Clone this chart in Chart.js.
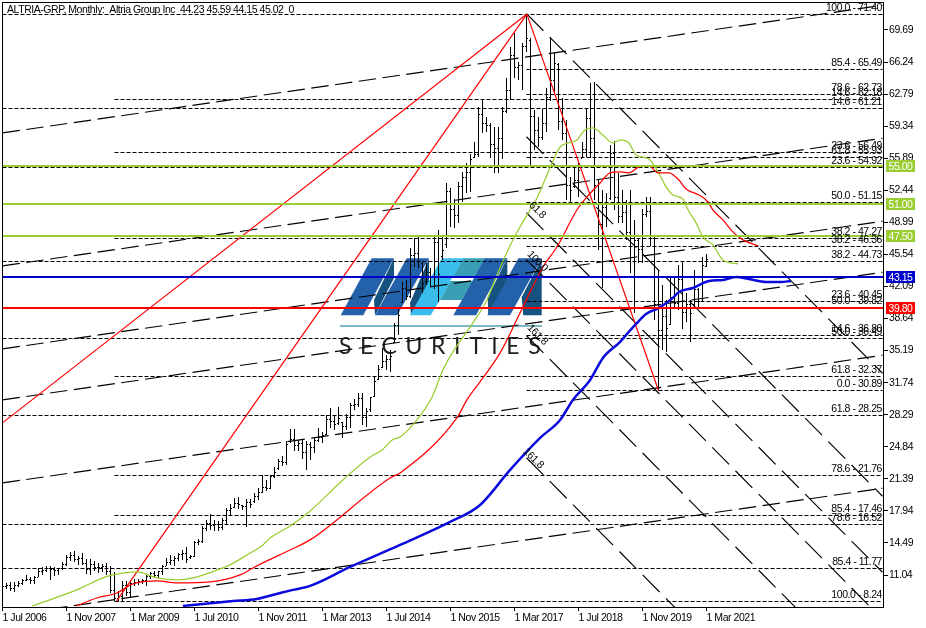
<!DOCTYPE html>
<html>
<head>
<meta charset="utf-8">
<title>ALTRIA-GRP Monthly</title>
<script src="https://cdn.jsdelivr.net/npm/chart.js@4/dist/chart.umd.min.js"></script>
<style>
  html, body { margin: 0; padding: 0; background: #fff; }
  canvas { display: block; }
</style>
</head>
<body>
<canvas id="chart" width="926" height="628"></canvas>
<script>
// monthly bars, index 0 = 1 Jul 2006
const highs = [
  10.0, 10.18, 10.25, 10.25, 10.36, 10.65, 11.0, 10.79, 10.9, 11.79,
  11.9, 12.04, 12.04, 11.9, 11.79, 12.44, 13.16, 13.52, 13.59, 13.05,
  13.41, 12.8, 12.8, 12.51, 12.33, 12.22, 12.33, 11.97, 11.36, 9.28,
  10.36, 10.36, 10.54, 10.61, 10.61, 10.61, 11.08, 11.36, 11.43, 11.51,
  12.15, 12.87, 13.16, 13.05, 13.41, 13.77, 14.02, 13.23, 14.66, 14.95,
  16.28, 17.0, 17.6, 17.0, 16.82, 17.17, 18.25, 18.68, 19.33, 19.4,
  18.54, 19.22, 19.25, 19.86, 20.4, 21.77, 21.3, 21.77, 22.63, 23.56,
  23.81, 25.42, 26.75, 26.75, 25.6, 25.6, 25.42, 25.4, 25.75, 26.83,
  26.47, 28.27, 28.98, 28.27, 29.09, 27.55, 28.34, 29.52, 29.95, 30.67,
  30.6, 28.98, 30.24, 32.39, 33.65, 35.44, 34.72, 35.26, 38.2, 39.9,
  42.6, 42.79, 46.19, 47.27, 47.45, 44.76, 44.58, 44.05, 47.45, 48.17,
  47.45, 53.19, 52.65, 51.5, 53.37, 54.44, 55.34, 56.34, 57.67, 61.44,
  62.26, 60.36, 59.64, 59.29, 59.29, 61.44, 64.49, 67.86, 69.4, 66.25,
  68.25, 71.4, 68.83, 61.08, 60.36, 61.15, 63.41, 68.97, 67.2, 66.1,
  62.4, 60.0, 53.9, 54.95, 55.4, 57.64, 61.3, 64.0, 64.1, 53.5,
  52.5, 52.2, 57.3, 57.75, 54.3, 52.5, 51.4, 52.5, 49.2, 47.3,
  50.4, 51.7, 51.7, 47.5, 43.9, 42.25, 40.6, 43.0, 43.1, 44.4,
  44.8, 41.4, 40.6, 43.9, 41.9, 45.3, 45.59
];
const lows = [
  9.5, 9.57, 9.28, 9.17, 9.75, 10.0, 10.36, 10.11, 10.11, 10.79,
  11.08, 11.36, 10.54, 10.9, 11.0, 11.54, 11.97, 12.58, 12.44, 12.15,
  12.15, 11.15, 11.08, 11.43, 11.26, 11.36, 11.08, 9.1, 8.21, 8.13,
  8.21, 8.74, 8.57, 9.82, 10.0, 10.11, 9.82, 10.65, 10.79, 10.72,
  11.08, 11.97, 12.15, 12.04, 12.51, 12.69, 12.33, 12.8, 12.94, 14.3,
  14.48, 15.81, 15.92, 15.81, 15.81, 15.92, 16.46, 17.53, 18.25, 18.18,
  18.07, 16.17, 18.25, 18.79, 19.15, 19.86, 20.04, 20.33, 21.48, 22.38,
  22.73, 22.91, 25.24, 24.35, 24.35, 23.56, 22.38, 23.42, 24.14, 25.4,
  25.22, 26.11, 26.83, 26.65, 27.19, 25.75, 26.65, 26.83, 28.8, 29.16,
  27.19, 26.94, 28.62, 30.24, 32.03, 33.29, 33.11, 32.93, 35.98, 36.87,
  40.28, 40.64, 40.82, 44.23, 44.05, 41.36, 42.25, 42.07, 41.79, 40.46,
  44.9, 46.19, 48.53, 48.4, 48.89, 51.22, 52.18, 52.22, 55.88, 56.06,
  58.57, 58.75, 55.88, 54.34, 54.34, 55.77, 60.72, 62.16, 64.53, 64.31,
  63.24, 67.3, 55.17, 56.78, 57.06, 57.85, 58.75, 62.0, 62.9, 58.9,
  57.85, 51.4, 51.1, 52.7, 51.7, 55.9, 56.0, 55.9, 51.4, 46.0,
  41.9, 48.5, 51.4, 50.3, 48.9, 48.9, 47.1, 43.5, 39.2, 44.6,
  44.6, 49.6, 46.4, 38.5, 30.89, 35.25, 35.0, 37.95, 39.9, 39.6,
  37.5, 38.3, 36.1, 39.9, 39.9, 40.4, 44.15
];
const opens = [
  9.7, 9.8, 9.9, 9.6, 9.9, 10.1, 10.4, 10.6, 10.4, 10.8,
  11.4, 11.5, 11.7, 11.6, 11.5, 11.7, 12.2, 12.9, 13.1, 12.7,
  12.8, 12.3, 11.6, 12.2, 11.9, 11.8, 12.0, 11.4, 9.4, 8.5,
  8.7, 9.9, 9.2, 10.1, 10.2, 10.3, 10.5, 10.9, 11.2, 11.0,
  11.4, 12.0, 12.4, 12.6, 12.8, 13.2, 13.4, 12.9, 13.0, 14.5,
  14.6, 16.0, 16.6, 16.4, 16.5, 16.2, 16.9, 18.0, 18.3, 18.7,
  18.5, 18.4, 18.8, 18.9, 19.5, 19.9, 20.5, 20.4, 21.6, 22.5,
  23.3, 23.1, 25.4, 25.6, 25.0, 25.2, 24.2, 25.1, 24.8, 25.5,
  25.8, 26.2, 27.8, 27.6, 27.3, 27.4, 27.0, 28.0, 29.3, 29.4,
  30.0, 28.0, 28.8, 30.3, 32.1, 33.4, 34.0, 34.2, 36.1, 37.9,
  40.4, 41.9, 41.0, 45.4, 45.6, 44.6, 42.6, 43.6, 43.2, 46.8,
  45.3, 46.6, 52.3, 50.4, 49.7, 52.8, 53.8, 54.3, 56.0, 56.3,
  60.6, 59.6, 59.4, 57.4, 56.9, 58.0, 60.9, 63.2, 66.9, 65.6,
  65.9, 67.9, 68.6, 60.4, 58.9, 58.1, 59.6, 62.4, 64.3, 66.0,
  59.8, 58.6, 53.0, 52.9, 53.5, 55.9, 56.8, 60.2, 58.0, 53.0,
  48.8, 50.6, 51.6, 56.4, 51.7, 49.6, 50.1, 47.9, 45.2, 47.0,
  46.1, 49.8, 50.2, 47.2, 40.1, 37.4, 38.9, 38.0, 40.9, 40.3,
  42.8, 39.3, 40.1, 40.1, 41.8, 40.5, 44.23
];
const closes = [
  9.8, 9.9, 9.6, 9.9, 10.1, 10.4, 10.6, 10.4, 10.8, 11.4,
  11.5, 11.7, 11.6, 11.5, 11.7, 12.2, 12.9, 13.1, 12.7, 12.8,
  12.3, 11.6, 12.2, 11.9, 11.8, 12.0, 11.4, 9.4, 8.5, 8.7,
  9.9, 9.2, 10.1, 10.2, 10.3, 10.5, 10.9, 11.2, 11.0, 11.4,
  12.0, 12.4, 12.6, 12.8, 13.2, 13.4, 12.7, 13.0, 14.5, 14.6,
  16.0, 16.6, 16.4, 16.5, 16.2, 16.9, 18.0, 18.2, 18.7, 18.6,
  18.4, 18.8, 18.6, 19.5, 19.9, 20.5, 20.3, 21.6, 22.1, 23.3,
  23.1, 25.1, 25.6, 25.0, 25.2, 24.2, 25.1, 24.8, 25.5, 25.8,
  26.1, 27.8, 27.6, 27.2, 27.9, 27.0, 28.0, 29.3, 29.4, 30.0,
  28.0, 28.6, 30.1, 31.9, 33.2, 34.0, 34.2, 34.6, 37.9, 39.0,
  41.9, 41.0, 45.4, 45.6, 44.8, 42.4, 43.6, 43.2, 46.8, 43.4,
  46.0, 52.3, 50.4, 49.7, 52.8, 53.8, 54.3, 55.7, 56.3, 60.6,
  59.6, 59.4, 57.4, 56.9, 58.0, 60.9, 63.2, 66.9, 65.6, 65.9,
  67.9, 68.8, 60.4, 58.9, 58.1, 59.6, 62.4, 64.3, 66.1, 59.8,
  58.6, 53.0, 52.4, 53.5, 54.6, 56.8, 60.2, 58.0, 53.0, 48.8,
  50.6, 49.5, 56.4, 51.7, 49.6, 50.1, 47.9, 45.2, 47.0, 46.1,
  49.8, 50.2, 47.2, 40.1, 37.4, 38.9, 37.6, 40.9, 40.3, 42.8,
  39.3, 40.1, 39.2, 41.8, 40.5, 44.3, 45.02
];

const greenMaIdx = [7.4, 18.6, 25.1, 27.6, 33.6, 38.6, 43.6, 47.6, 54.4, 56.9, 61.1, 65.1, 66.9, 71.9, 76.9, 85.1, 91.9, 94.9, 97.4, 99.4, 103.6, 107.4, 110.1, 112.6, 117.6, 121.1, 123.6, 127.6, 131.9, 133.1, 135.6, 137.4, 139.4, 143.6, 145.6, 147.6, 150.1, 152.6, 154.4, 156.6, 158.4, 161.6, 163.9, 165.9, 167.6, 170.1, 171.4, 173.4, 175.1, 177.6, 180.1, 183.9];
const greenMaVal = [7.71, 9.44, 10.73, 11.05, 11.37, 10.73, 10.51, 10.73, 11.7, 12.13, 13.2, 14.28, 15.03, 16.32, 17.94, 21.27, 23.75, 24.5, 25.57, 25.9, 27.73, 30.2, 33.11, 35.05, 38.17, 40.64, 43.33, 47.1, 50.32, 51.18, 53.55, 55.38, 57.1, 57.86, 58.93, 59.15, 58.39, 57.53, 57.86, 57.53, 56.24, 55.81, 54.41, 52.8, 51.94, 51.51, 50.32, 48.93, 47.42, 46.56, 44.94, 44.51];
const redMaIdx = [18.4, 23.6, 28.6, 32.6, 38.6, 43.6, 51.9, 59.4, 62.6, 66.1, 71.9, 76.9, 96.9, 99.4, 113.6, 116.1, 120.1, 124.4, 130.1, 135.1, 138.6, 143.6, 146.1, 149.4, 151.9, 154.4, 156.6, 159.1, 161.6, 163.9, 166.6, 169.1, 170.9, 174.1, 176.4, 177.6, 180.1, 182.6, 185.1, 188.9];
const redMaVal = [7.71, 8.57, 9.11, 10.08, 10.4, 10.19, 10.3, 11.05, 11.8, 12.56, 13.74, 14.82, 21.49, 22.03, 27.94, 29.88, 32.25, 34.94, 39.89, 44.19, 46.34, 50.32, 51.72, 53.23, 54.31, 54.41, 54.31, 54.95, 55.06, 54.31, 54.31, 53.55, 52.58, 51.94, 51.18, 50.32, 49.25, 47.96, 47.1, 46.45];
const blueMaIdx = [45.1, 52.6, 57.6, 63.6, 69.4, 72.6, 76.9, 86.9, 99.4, 111.9, 119.4, 126.9, 134.4, 139.4, 142.6, 146.9, 150.1, 154.4, 155.9, 158.4, 160.9, 164.1, 167.6, 169.1, 172.6, 176.6, 180.1, 183.4, 186.6, 190.9, 194.6, 197.1];
const blueMaVal = [7.71, 8.04, 8.25, 8.47, 9.11, 9.44, 9.87, 11.91, 14.28, 16.75, 18.58, 22.35, 25.79, 27.73, 29.88, 32.03, 34.4, 36.12, 36.87, 38.06, 39.13, 39.78, 40.86, 41.5, 41.93, 42.68, 42.79, 43.11, 42.9, 42.58, 42.58, 42.68];

// fibo retracement levels
const levelPrices = [71.40, 65.49, 62.73, 55.93, 51.15, 46.36, 40.45, 36.80, 30.89, 62.18, 56.49, 47.27, 39.82, 32.37, 21.76, 17.46, 8.24, 61.21, 54.92, 44.73, 36.49, 28.25, 16.52, 11.77];
const levelStart = [0, 131, 131, 131, 131, 131, 131, 131, 131, 28, 28, 28, 28, 28, 28, 28, 28, 0, 0, 0, 0, 0, 0, 0];
const levelNames = ['100.0', '85.4', '78.6', '61.8', '50.0', '38.2', '23.6', '14.6', '0.0', '14.6', '23.6', '38.2', '50.0', '61.8', '78.6', '85.4', '100.0', '14.6', '23.6', '38.2', '50.0', '61.8', '78.6', '85.4'];

// rising channel lines, price at bar 0 and bar 220
const channelFrom = [58.61, 44.30, 35.37, 29.88, 20.95, 6.64];
const channelTo = [72.35, 58.04, 49.11, 43.62, 34.69, 20.38];

// falling fibo channel lines, price at bar 131 and bar 220
const fallFrom = [71.44, 58.20, 50.02, 44.97, 36.79, 23.66];
const fallTo = [32.75, 19.52, 11.34, 6.28, -1.90, -15.0];

// red fan lines [from bar, from price, to bar, to price]
const fanFromIdx = [0, 28.5, 131.1];
const fanFromVal = [27.41, 8.24, 71.40];
const fanToIdx = [131.1, 131.1, 164];
const fanToVal = [71.40, 71.40, 30.89];

// support and resistance
const tagPrices = [55.00, 51.00, 47.50, 43.15, 39.80];
const tagColors = ['#9acd32', '#9acd32', '#9acd32', '#0000cd', '#ff0000'];

const xTickIdx = [0, 16, 32, 48, 64, 80, 96, 112, 128, 144, 160, 176];
const xTickLabels = ['1 Jul 2006', '1 Nov 2007', '1 Mar 2009', '1 Jul 2010', '1 Nov 2011', '1 Mar 2013', '1 Jul 2014', '1 Nov 2015', '1 Mar 2017', '1 Jul 2018', '1 Nov 2019', '1 Mar 2021'];
const yTicks = [69.69, 66.24, 62.79, 59.34, 55.89, 52.44, 48.99, 45.54, 42.09, 38.64, 35.19, 31.74, 28.29, 24.84, 21.39, 17.94, 14.49, 11.04];

const fanLabels = ['61.8', '100.0', '161.8', '161.8'];
const fanLabelIdx = [133, 133, 133, 132];
const fanLabelVal = [50.0, 44.5, 36.6, 23.3];

const headerText = 'ALTRIA-GRP, Monthly:  Altria Group Inc  44.23 45.59 44.15 45.02  0';
const uiFont = '10.5px "Liberation Sans"';

// open is a nub to the left of the bar, close one to the right
function nub(col) {
  const c = document.createElement('canvas');
  c.width = 3;
  c.height = 1;
  const g = c.getContext('2d');
  g.fillStyle = '#000';
  g.fillRect(col, 0, 1, 1);
  return c;
}

const datasets = [];
const xEnd = 220;

tagPrices.forEach((p, i) => {
  datasets.push({ type: 'line', data: [{ x: -1, y: p }, { x: 221, y: p }], borderColor: tagColors[i], borderWidth: 2, pointRadius: 0, order: 1, snap: 'even' });
});
[[blueMaIdx, blueMaVal, '#0a0adc', 2.5], [redMaIdx, redMaVal, '#ff0000', 1.25], [greenMaIdx, greenMaVal, '#9acd32', 1.25]].forEach((m) => {
  datasets.push({ type: 'line', data: m[0].map((x, i) => ({ x: x, y: m[1][i] })), borderColor: m[2], borderWidth: m[3], pointRadius: 0, cubicInterpolationMode: 'monotone', order: 2 });
});
fanFromIdx.forEach((x, i) => {
  datasets.push({ type: 'line', data: [{ x: x, y: fanFromVal[i] }, { x: fanToIdx[i], y: fanToVal[i] }], borderColor: '#ff0000', borderWidth: 1.2, pointRadius: 0, order: 3 });
});
levelPrices.forEach((p, i) => {
  datasets.push({ type: 'line', data: [{ x: levelStart[i], y: p }, { x: xEnd, y: p }], borderColor: '#000', borderWidth: 1, borderDash: [4, 2], pointRadius: 0, order: 4, snap: 'odd' });
});
channelFrom.forEach((p, i) => {
  datasets.push({ type: 'line', data: [{ x: 0, y: p }, { x: xEnd, y: channelTo[i] }], borderColor: '#000', borderWidth: 1.15, borderDash: [17.5, 6.5], pointRadius: 0, order: 5 });
});
fallFrom.forEach((p, i) => {
  datasets.push({ type: 'line', data: [{ x: 131, y: p }, { x: xEnd, y: fallTo[i] }], borderColor: '#000', borderWidth: 1.15, borderDash: [24, 9], pointRadius: 0, order: 5 });
});
datasets.push({ type: 'line', showLine: false, data: opens.map((v, i) => ({ x: i, y: v })), pointStyle: nub(0), pointRadius: 1, order: 6, snap: 'odd' });
datasets.push({ type: 'line', showLine: false, data: closes.map((v, i) => ({ x: i, y: v })), pointStyle: nub(2), pointRadius: 1, order: 6, snap: 'odd' });
datasets.push({ type: 'bar', data: highs.map((h, i) => ({ x: i, y: [lows[i], h] })), backgroundColor: '#000', borderWidth: 0, barThickness: 1, inflateAmount: 0, order: 7, snap: 'bar' });

// the axes keep room for their labels, pin the plot to the MT4 frame instead
const framePlugin = {
  id: 'frame',
  afterLayout(chart) {
    const a = chart.chartArea;
    const xs = chart.scales.x;
    const ys = chart.scales.y;
    a.left = 2; a.right = 883; a.top = 2; a.bottom = 607;
    a.width = 881; a.height = 605;
    ys.top = 2; ys.bottom = 607; ys.height = 605; ys.left = 883; ys.right = 926; ys.width = 43;
    xs.left = 2; xs.right = 883; xs.width = 881; xs.top = 607; xs.bottom = 628; xs.height = 21;
    ys.configure();
    xs.configure();
  }
};

// MT4 draws aliased, so pull flat things on to whole pixels
const snapPlugin = {
  id: 'snap',
  beforeDatasetDraw(chart, args) {
    const mode = chart.data.datasets[args.index].snap;
    if (!mode) return;
    args.meta.data.forEach((el) => {
      if (mode === 'bar') {
        el.y = Math.round(el.y);
        el.base = Math.round(el.base);
      } else if (mode === 'odd') {
        el.y = Math.floor(el.y) + 0.5;
      } else {
        el.y = Math.round(el.y);
      }
    });
  }
};

function polygon(ctx, color, pts) {
  ctx.fillStyle = color;
  ctx.beginPath();
  pts.forEach((p, i) => (i ? ctx.lineTo(p[0], p[1]) : ctx.moveTo(p[0], p[1])));
  ctx.closePath();
  ctx.fill();
}

// watermark sits under the bars
const logoPlugin = {
  id: 'logo',
  beforeDatasetsDraw(chart) {
    const ctx = chart.ctx;
    const blue = '#2361ab';
    const dark = '#15527f';
    ctx.save();
    polygon(ctx, dark, [[374, 300], [394, 258.3], [394, 278], [375, 315.3]]);
    polygon(ctx, dark, [[410, 303], [429, 258.3], [429, 285], [411, 315]]);
    polygon(ctx, blue, [[340.7, 315.3], [371.7, 258.3], [394, 258.3], [363.3, 315.3]]);
    polygon(ctx, blue, [[375, 315.3], [406.7, 258.3], [429, 258.3], [397.3, 315.3]]);
    polygon(ctx, '#3abdec', [[410, 315.3], [441.7, 258.3], [465, 258.3], [430.7, 315.3]]);
    polygon(ctx, '#3a9fb4', [[440, 300], [464, 258.3], [486.7, 258.3], [461.7, 300]]);
    polygon(ctx, '#fff', [[452, 278], [456, 277], [480, 277], [476, 281], [450, 281]]);
    polygon(ctx, dark, [[507.3, 258.3], [507.3, 280], [488.3, 315.3], [487.7, 297.3]]);
    polygon(ctx, dark, [[541.7, 258.3], [541.7, 315.3], [523.3, 315.3], [521.7, 297.3]]);
    polygon(ctx, blue, [[453.3, 315.3], [485, 258.3], [507.3, 258.3], [476, 315.3]]);
    polygon(ctx, blue, [[487.3, 315.3], [518.3, 258.3], [541.7, 258.3], [510, 315.3]]);
    ctx.fillStyle = '#7db9c4';
    ctx.fillRect(340, 325, 202, 2);
    ctx.fillStyle = '#222';
    ctx.font = '23px Lato';
    ctx.letterSpacing = '8.6px';
    ctx.textAlign = 'left';
    ctx.textBaseline = 'alphabetic';
    ctx.fillText('SECURITIES', 339, 354);
    ctx.restore();
  }
};

const textPlugin = {
  id: 'texts',
  beforeDraw(chart) {
    chart.ctx.letterSpacing = '-0.45px';
  },
  afterDraw(chart) {
    const ctx = chart.ctx;
    const xs = chart.scales.x;
    const ys = chart.scales.y;
    const area = chart.chartArea;
    ctx.save();
    // left and top of the frame, the axes draw the others
    ctx.fillStyle = '#000';
    ctx.fillRect(area.left, area.top, 1, area.bottom - area.top);
    ctx.fillRect(area.left, area.top, area.right - area.left, 1);

    ctx.font = uiFont;
    ctx.fillStyle = '#000';
    ctx.textBaseline = 'alphabetic';
    ctx.textAlign = 'left';
    ctx.fillText(headerText, 7, 13);

    ctx.textAlign = 'right';
    levelPrices.forEach((p, i) => {
      ctx.fillText(levelNames[i] + ' - ' + p.toFixed(2), 882, Math.floor(ys.getPixelForValue(p)) - 3);
    });

    fanLabels.forEach((t, i) => {
      ctx.save();
      ctx.translate(xs.getPixelForValue(fanLabelIdx[i]), ys.getPixelForValue(fanLabelVal[i]));
      ctx.rotate(Math.PI / 4);
      ctx.textAlign = 'center';
      ctx.fillText(t, 0, -1);
      ctx.restore();
    });

    // price tags on the axis
    ctx.textAlign = 'center';
    tagPrices.forEach((p, i) => {
      const y = Math.round(ys.getPixelForValue(p));
      ctx.fillStyle = tagColors[i];
      ctx.fillRect(886, y - 6, 29, 12);
      ctx.fillStyle = '#fff';
      ctx.fillText(p.toFixed(2), 900.5, y + 4);
    });
    ctx.restore();
  }
};

new Chart(document.getElementById('chart'), {
  type: 'bar',
  data: { datasets: datasets },
  plugins: [framePlugin, snapPlugin, logoPlugin, textPlugin],
  options: {
    responsive: false,
    animation: false,
    devicePixelRatio: 1,
    layout: { autoPadding: false, padding: { left: 2, top: 2, right: 0, bottom: 0 } },
    plugins: { legend: { display: false }, tooltip: { enabled: false }, title: { display: false } },
    scales: {
      x: {
        type: 'linear',
        min: -0.125,
        max: 220.125,
        offset: false,
        grid: { drawOnChartArea: false, color: '#000', tickLength: 4, offset: false },
        border: { color: '#000' },
        ticks: {
          align: 'start',
          autoSkip: false,
          maxRotation: 0,
          padding: 1,
          color: '#000',
          font: { family: 'Liberation Sans', size: 10.5 },
          callback: (v, i) => xTickLabels[i]
        },
        afterBuildTicks: (scale) => { scale.ticks = xTickIdx.map((v) => ({ value: v })); },
        afterFit: (scale) => { scale.height = 21; }
      },
      y: {
        type: 'linear',
        position: 'right',
        min: 7.6,
        max: 72.7,
        grid: { drawOnChartArea: false, color: '#000', tickLength: 5 },
        border: { color: '#000' },
        ticks: {
          autoSkip: false,
          padding: 1,
          color: '#000',
          font: { family: 'Liberation Sans', size: 10.5 },
          callback: (v) => v.toFixed(2)
        },
        afterBuildTicks: (scale) => { scale.ticks = yTicks.map((v) => ({ value: v })); },
        afterFit: (scale) => { scale.width = 43; }
      }
    }
  }
});
</script>
</body>
</html>
